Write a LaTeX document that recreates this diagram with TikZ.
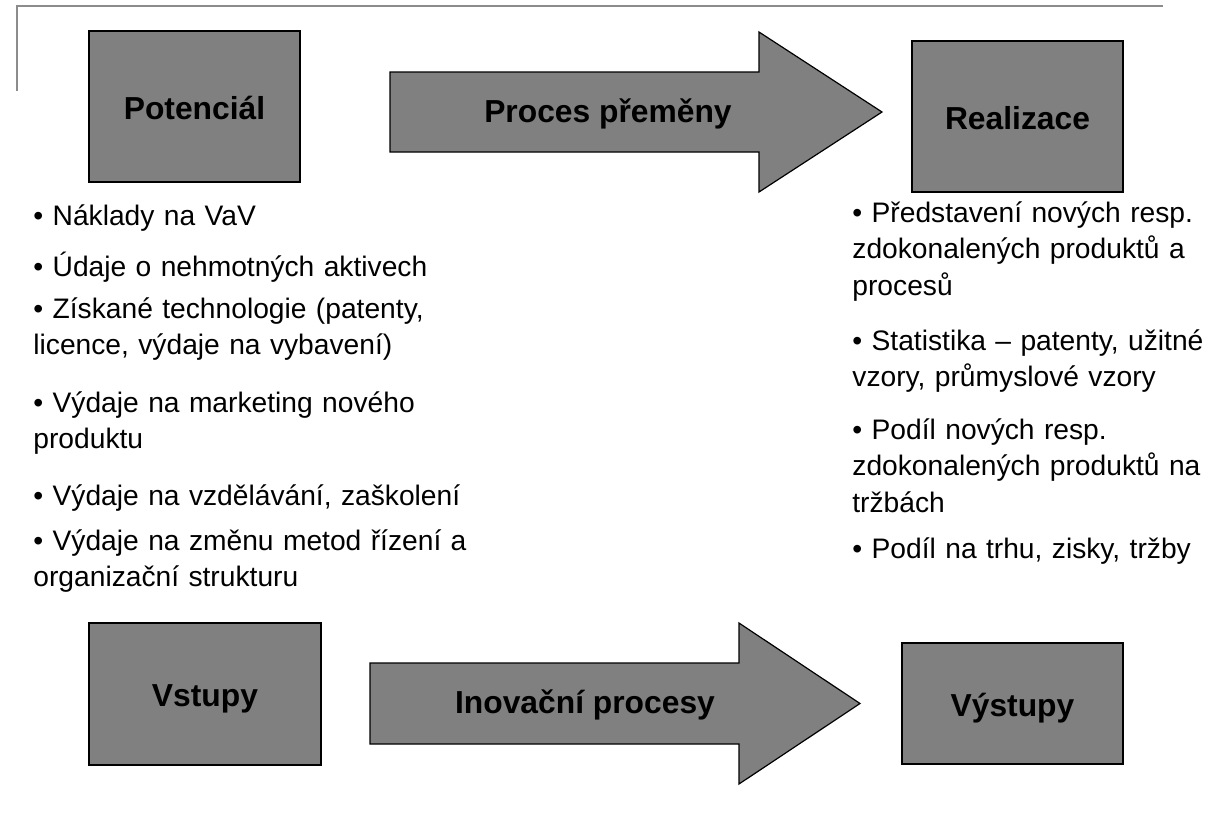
\documentclass[tikz,border=0pt]{standalone}
\usepackage{fontspec}
\setmainfont{Liberation Sans}
\definecolor{boxgray}{RGB}{128,128,128}
\definecolor{rulegray}{RGB}{140,140,140}

\begin{document}
\begin{tikzpicture}[x=0.5pt,y=-0.5pt,
    box/.style={draw=black,fill=boxgray,line width=0.6pt,inner sep=0pt,
      font=\fontsize{15.9}{19}\selectfont\bfseries,text height=12.6pt,text depth=0pt},
    blockarrow/.style={draw=black,fill=boxgray,line width=0.6pt,line join=miter},
    arrowtext/.style={inner sep=0pt,font=\fontsize{15.9}{19}\selectfont\bfseries,
      text height=10pt,text depth=0pt},
    listitem/.style={anchor=base west,inner sep=0pt,text width=220pt,align=left,
      font=\fontsize{14.1}{18.25}\selectfont}]
  \useasboundingbox (0,0) rectangle (1221,831);
  \draw[rulegray,line width=1.25pt] (17,91) -- (17,6) -- (1163,6);

  \node[box,minimum width=105.5pt,minimum height=75.5pt] (pot) at (194.5,106.5) {Potenciál};
  \draw[blockarrow] (390,72) -- (759,72) -- (759,32) -- (882,112)
    -- (759,192) -- (759,152) -- (390,152) -- cycle;
  \node[arrowtext] (proc) at (608,112) {Proces přeměny};
  \node[box,minimum width=105.5pt,minimum height=75.5pt] (real) at (1017.5,116.5) {Realizace};

  \foreach \y/\t [count=\i] in {225/{• Náklady na VaV},
      276/{• Údaje o nehmotných aktivech},
      318/{• Získané technologie (patenty,\\licence, výdaje na vybavení)},
      412/{• Výdaje na marketing nového\\produktu},
      505/{• Výdaje na vzdělávání, zaškolení},
      550/{• Výdaje na změnu metod řízení a\\organizační strukturu}} {
    \node[listitem] (in\i) at (33,\y) {\t};
  }
  \foreach \y/\t [count=\i] in {222/{• Představení nových resp.\\zdokonalených produktů a\\procesů},
      350/{• Statistika – patenty, užitné\\vzory, průmyslové vzory},
      439/{• Podíl nových resp.\\zdokonalených produktů na\\tržbách},
      558/{• Podíl na trhu, zisky, tržby}} {
    \node[listitem] (out\i) at (852,\y) {\t};
  }

  \node[box,minimum width=116pt,minimum height=71pt] (vst) at (205,694) {Vstupy};
  \draw[blockarrow] (370,663) -- (739,663) -- (739,623) -- (860,703.5)
    -- (739,784) -- (739,744) -- (370,744) -- cycle;
  \node[arrowtext] (inov) at (585,703.5) {Inovační procesy};
  \node[box,minimum width=110.5pt,minimum height=60.5pt] (vyst) at (1012.5,703.5) {Výstupy};
\end{tikzpicture}
\end{document}
